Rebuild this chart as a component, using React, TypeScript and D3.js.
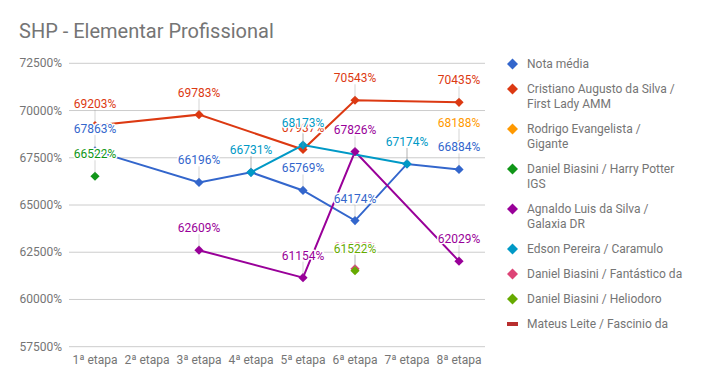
import React from 'react';
import * as d3 from 'd3';

// categories and tick values
const etapas = ['1ª etapa', '2ª etapa', '3ª etapa', '4ª etapa', '5ª etapa', '6ª etapa', '7ª etapa', '8ª etapa'];
const yTicks = [57500, 60000, 62500, 65000, 67500, 70000, 72500];

// series values (null = no value for that etapa)
const notaMedia = [67863, null, 66196, 66731, 65769, 64174, 67174, 66884];
const cristiano = [69203, null, 69783, null, 67937, 70543, null, 70435];
const rodrigo = [null, null, null, null, null, null, null, 68188];
const harryPotter = [66522, null, null, null, null, null, null, null];
const agnaldo = [null, null, 62609, null, 61154, 67826, null, 62029];
const edson = [null, null, null, 66731, 68173, null, 67174, null];
const fantastico = [null, null, null, null, null, 61622, null, null];
const heliodoro = [null, null, null, null, null, 61522, null, null];
const mateus = [null, null, null, null, null, null, null, null];

const seriesNames = [
  ['Nota média'],
  ['Cristiano Augusto da Silva /', 'First Lady AMM'],
  ['Rodrigo Evangelista /', 'Gigante'],
  ['Daniel Biasini / Harry Potter', 'IGS'],
  ['Agnaldo Luis da Silva /', 'Galaxia DR'],
  ['Edson Pereira / Caramulo'],
  ['Daniel Biasini / Fantástico da'],
  ['Daniel Biasini / Heliodoro'],
  ['Mateus Leite / Fascinio da'],
];
const seriesValues = [notaMedia, cristiano, rodrigo, harryPotter, agnaldo, edson, fantastico, heliodoro, mateus];
const colors = ['#3366cc', '#dc3912', '#ff9900', '#109618', '#990099', '#0099c6', '#dd4477', '#66aa00', '#b82e2e'];

const W = 705;
const H = 388;
const font = 'Roboto, sans-serif';
const gray = '#757575';

const diamond = (x: number, y: number, r: number) =>
  `M${x},${y - r}L${x + r},${y}L${x},${y + r}L${x - r},${y}Z`;

const App = () => {
  const x = d3.scaleBand().domain(etapas).range([69, 485]);
  const y = d3.scaleLinear().domain([57500, 72500]).range([346.7, 63.3]);
  const cx = (i: number) => (x(etapas[i]) as number) + x.bandwidth() / 2;

  const line = d3.line<[number, number]>()
    .x(d => cx(d[0]))
    .y(d => y(d[1]));

  const pts = seriesValues.map(vals =>
    vals.map((v, i) => [i, v] as [number, number | null]).filter(d => d[1] !== null) as [number, number][]
  );

  // legend rows
  let ly = 64;
  const legendRows = seriesNames.map((lines, i) => {
    const row = { i, y: ly, lines };
    ly += 25 + (lines.length - 1) * 15;
    return row;
  });

  return (
    <svg width={W} height={H} style={{ position: 'absolute', left: 0, top: 0 }} fontFamily={font}>
      <rect width={W} height={H} fill="#fff" />
      <text x={19} y={38} fontSize={20} fill={gray}>SHP - Elementar Profissional</text>

      {/* grid + y axis */}
      {yTicks.map(t => (
        <g key={t}>
          <line x1={69} x2={485} y1={y(t)} y2={y(t)} stroke="#cccccc" strokeWidth={1} />
          <text x={62} y={y(t) + 4} textAnchor="end" fontSize={12} fill={gray}>{t}%</text>
        </g>
      ))}

      {/* x axis labels */}
      {etapas.map((e, i) => (
        <text key={e} x={cx(i)} y={364} textAnchor="middle" fontSize={12} fill={gray}>{e}</text>
      ))}

      {/* lines */}
      {pts.map((p, s) => p.length > 1 && (
        <path key={s} d={line(p) as string} fill="none" stroke={colors[s]} strokeWidth={2} />
      ))}

      {/* markers */}
      {pts.map((p, s) => p.map(d => (
        <path key={`${s}-${d[0]}`} d={diamond(cx(d[0]), y(d[1]), 4.6)} fill={colors[s]} />
      )))}

      {/* stems */}
      {pts.map((p, s) => p.map(d => (
        <line key={`st${s}-${d[0]}`} x1={cx(d[0])} x2={cx(d[0])} y1={y(d[1]) - 3} y2={y(d[1]) - 16}
          stroke="#999" strokeOpacity={0.4} strokeWidth={1} />
      )))}

      {/* annotations */}
      {pts.map((p, s) => p.map(d => (
        <text key={`a${s}-${d[0]}`} x={cx(d[0])} y={y(d[1]) - 18} textAnchor="middle" fontSize={12}
          fill={colors[s]} stroke="#fff" strokeWidth={3} strokeLinejoin="round"
          style={{ paintOrder: 'stroke' }}>{d[1]}%</text>
      )))}

      {/* legend */}
      {legendRows.map(r => (
        <g key={r.i}>
          {r.i === 8
            ? <rect x={507} y={r.y - 2} width={11} height={4} fill={colors[r.i]} />
            : <path d={diamond(512.5, r.y, 5.5)} fill={colors[r.i]} />}
          {r.lines.map((t, k) => (
            <text key={k} x={527} y={r.y + 4 + k * 15} fontSize={12} fill={gray}>{t}</text>
          ))}
        </g>
      ))}
    </svg>
  );
};

export default App;
